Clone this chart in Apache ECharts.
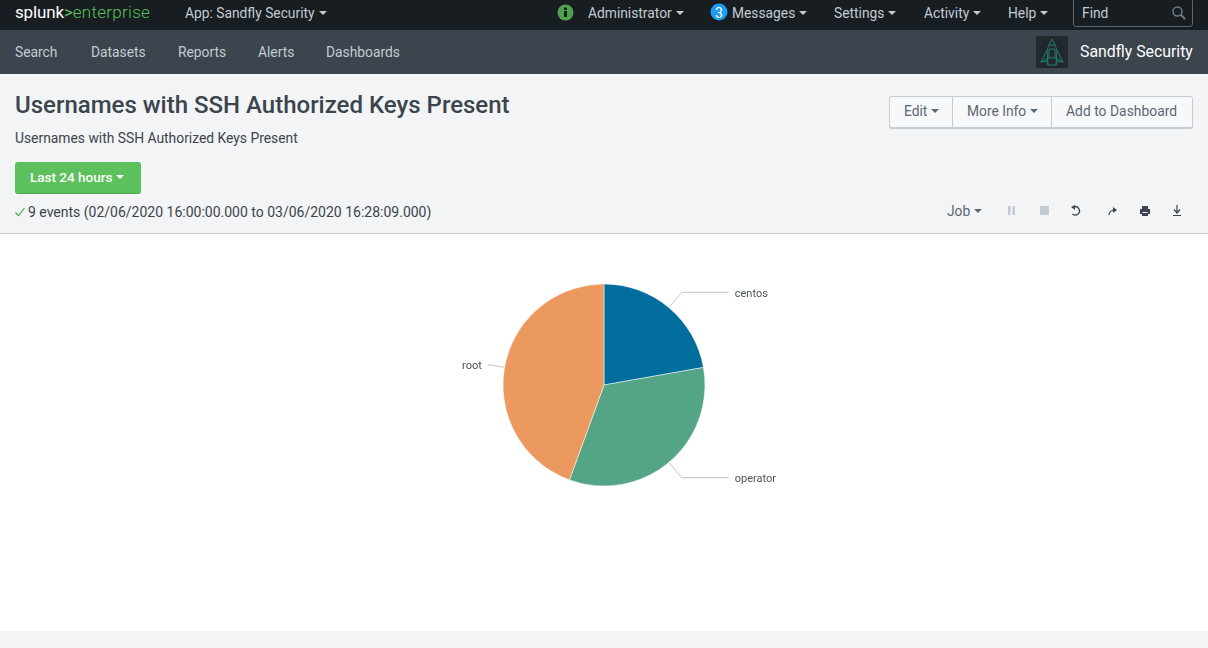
<!DOCTYPE html>
<html>
<head>
<meta charset="utf-8" />
<title>Usernames with SSH Authorized Keys Present</title>
<script src="https://cdn.jsdelivr.net/npm/echarts@6/dist/echarts.min.js"></script>
<style>
    html, body { margin: 0; padding: 0; width: 1208px; height: 648px; overflow: hidden; background: #f2f4f5; font-family: Roboto, sans-serif; }
    .t { position: absolute; white-space: nowrap; line-height: 1; }
    .bar { position: absolute; left: 0; width: 1208px; }
    .top { color: #c3cbd4; font-size: 13.8px; top: 7px; }
    .nav { color: #c3cbd4; font-size: 13.8px; top: 46px; }
    .caret { display: inline-block; width: 0; height: 0; border-left: 4px solid transparent; border-right: 4px solid transparent; border-top: 4px solid currentColor; vertical-align: 3px; margin-left: 4px; }
    .btns { position: absolute; left: 889px; top: 96px; width: 302px; height: 30px; border: 1px solid #c3cbd4; border-bottom-width: 2px; border-radius: 3px; background: #f7f8fa; }
    .btns i { position: absolute; top: 0; width: 1px; height: 30px; background: #c3cbd4; }
    .gray { color: #5c6773; font-size: 13.8px; }
    svg { position: absolute; }
</style>
</head>

<body>
    <div class="bar" style="top:0;height:30px;background:#171d21;"></div>
    <div class="bar" style="top:30px;height:44px;background:#3c444d;"></div>

    <div class="t" style="left:15px;top:4px;font-size:17px;color:#fff;letter-spacing:-0.15px;">splunk<span style="color:#5cc05c;">&gt;</span><span style="color:#5cc05c;font-weight:300;letter-spacing:0.3px;">enterprise</span></div>
    <div class="t top" style="left:185px;">App: Sandfly Security<span class="caret"></span></div>

    <svg style="left:557px;top:4px;" width="17" height="17"><circle cx="8.5" cy="8.5" r="8" fill="#4fa34f"/><rect x="7" y="7" width="3" height="6" fill="#171d21"/><rect x="7" y="3.5" width="3" height="2.5" fill="#171d21"/></svg>
    <div class="t top" style="left:588px;">Administrator<span class="caret"></span></div>
    <svg style="left:710px;top:3px;" width="18" height="18"><circle cx="9" cy="9" r="8.5" fill="#1e9cef"/></svg>
    <div class="t" style="left:715px;top:6px;font-size:14px;color:#fff;">3</div>
    <div class="t top" style="left:732px;">Messages<span class="caret"></span></div>
    <div class="t top" style="left:834px;">Settings<span class="caret"></span></div>
    <div class="t top" style="left:924px;">Activity<span class="caret"></span></div>
    <div class="t top" style="left:1008px;">Help<span class="caret"></span></div>
    <div style="position:absolute;left:1073px;top:-2px;width:118px;height:27px;border:1px solid #5c6773;border-radius:3px;"></div>
    <div class="t top" style="left:1082px;">Find</div>
    <svg style="left:1171px;top:5px;" width="15" height="15"><circle cx="6.5" cy="6.5" r="4.5" fill="none" stroke="#6f7a85" stroke-width="1.5"/><line x1="10" y1="10" x2="14" y2="14" stroke="#6f7a85" stroke-width="2"/></svg>

    <div class="t nav" style="left:15px;">Search</div>
    <div class="t nav" style="left:91px;">Datasets</div>
    <div class="t nav" style="left:178px;">Reports</div>
    <div class="t nav" style="left:258px;">Alerts</div>
    <div class="t nav" style="left:326px;">Dashboards</div>

    <svg style="left:1036px;top:36px;" width="32" height="32"><rect width="32" height="32" fill="#22282c"/><path d="M16 3 L19 9 L21 14 L27 26 L21 25 L20 29 L12 29 L11 25 L5 26 L11 14 L13 9 Z M13 9 L19 9 M13 13 h6 v9 h-6 Z M11 14 L12 29 M21 14 L20 29 M5 26 L13 22 M27 26 L19 22" fill="none" stroke="#1f7f6f" stroke-width="1"/></svg>
    <div class="t" style="left:1080px;top:44px;font-size:15.85px;color:#fff;">Sandfly Security</div>

    <div class="t" style="left:15px;top:93px;font-size:24px;font-weight:500;color:#3c444d;">Usernames with SSH Authorized Keys Present</div>
    <div class="t" style="left:15px;top:132px;font-size:13.85px;color:#3c444d;">Usernames with SSH Authorized Keys Present</div>

    <div class="btns"><i style="left:62px;"></i><i style="left:161px;"></i></div>
    <div class="t gray" style="left:904px;top:105px;">Edit<span class="caret"></span></div>
    <div class="t gray" style="left:967px;top:105px;">More Info<span class="caret"></span></div>
    <div class="t gray" style="left:1066px;top:105px;letter-spacing:0.05px;">Add to Dashboard</div>

    <div style="position:absolute;left:15px;top:162px;width:126px;height:32px;background:#5cc05c;border-bottom:1px solid #4fa84f;border-radius:3px;box-sizing:border-box;"></div>
    <div class="t" style="left:30px;top:171px;font-size:13.5px;font-weight:500;color:#fff;">Last 24 hours<span class="caret"></span></div>

    <svg style="left:15px;top:207px;" width="10" height="10"><path d="M0.5 5.5 L3.5 8.5 L9.5 1" fill="none" stroke="#4fa84f" stroke-width="1.2"/></svg>
    <div class="t" style="left:28px;top:205px;font-size:14px;color:#3c444d;">9 events (02/06/2020 16:00:00.000 to 03/06/2020 16:28:09.000)</div>

    <div class="t gray" style="left:947px;top:205px;">Job<span class="caret"></span></div>
    <svg style="left:1005px;top:204px;" width="180" height="14">
        <rect x="3" y="2" width="2.5" height="9" fill="#c3cbd4"/><rect x="7.5" y="2" width="2.5" height="9" fill="#c3cbd4"/>
        <rect x="35" y="2" width="9" height="9" fill="#c3cbd4"/>
        <path d="M68.5 3 A4.2 4.2 0 1 1 67.5 10" fill="none" stroke="#3c444d" stroke-width="1.3"/><path d="M66 3 L70 1 L70 6 Z" fill="#3c444d"/>
        <path d="M104 11 Q104 6 111 6" fill="none" stroke="#3c444d" stroke-width="1.2"/><path d="M108 3 L112 6 L108 9 Z" fill="#3c444d"/>
        <path d="M135 5 h2 v-3 h6 v3 h2 v5 h-2 v2 h-6 v-2 h-2 Z" fill="#3c444d"/><rect x="137.500" y="8" width="5" height="1" fill="#f2f4f5"/>
        <path d="M172 1 v7 M169 5.5 L172 9 L175 5.5 M168 11.5 h8" fill="none" stroke="#3c444d" stroke-width="1.2"/>
    </svg>

    <div id="chart" style="position:absolute;left:0;top:233px;width:1208px;height:398px;background:#fff;border-top:1px solid #c3cbd4;box-sizing:border-box;"></div>

    <script type="text/javascript">
        var usernames = ['centos', 'operator', 'root'];
        var eventCounts = [2, 3, 4];
        var sliceColors = ['#006d9c', '#53a585', '#ec9960'];
        // root sits almost level, so its leader has no horizontal part
        var leaderLength = [20, 20, 17];
        var leaderLength2 = [47, 47, 0];

        var pieData = [];
        for (var i = 0; i < usernames.length; i++) {
            pieData.push({
                name: usernames[i],
                value: eventCounts[i],
                itemStyle: { color: sliceColors[i] },
                labelLine: { length: leaderLength[i], length2: leaderLength2[i] }
            });
        }

        var myChart = echarts.init(document.getElementById('chart'));
        myChart.setOption({
            animation: false,
            series: [{
                type: 'pie',
                center: [604, 151],
                radius: [0, 101],
                startAngle: 90,
                clockwise: true,
                avoidLabelOverlap: false,
                data: pieData,
                itemStyle: { borderColor: '#fff', borderWidth: 0.5 },
                label: {
                    color: '#4a535c',
                    fontSize: 11,
                    fontFamily: 'Roboto, sans-serif',
                    distanceToLabelLine: 6,
                    offset: [0, 2]
                },
                labelLine: {
                    smooth: false,
                    lineStyle: { color: '#c3c3c3', width: 1 }
                }
            }]
        });
    </script>
</body>
</html>
